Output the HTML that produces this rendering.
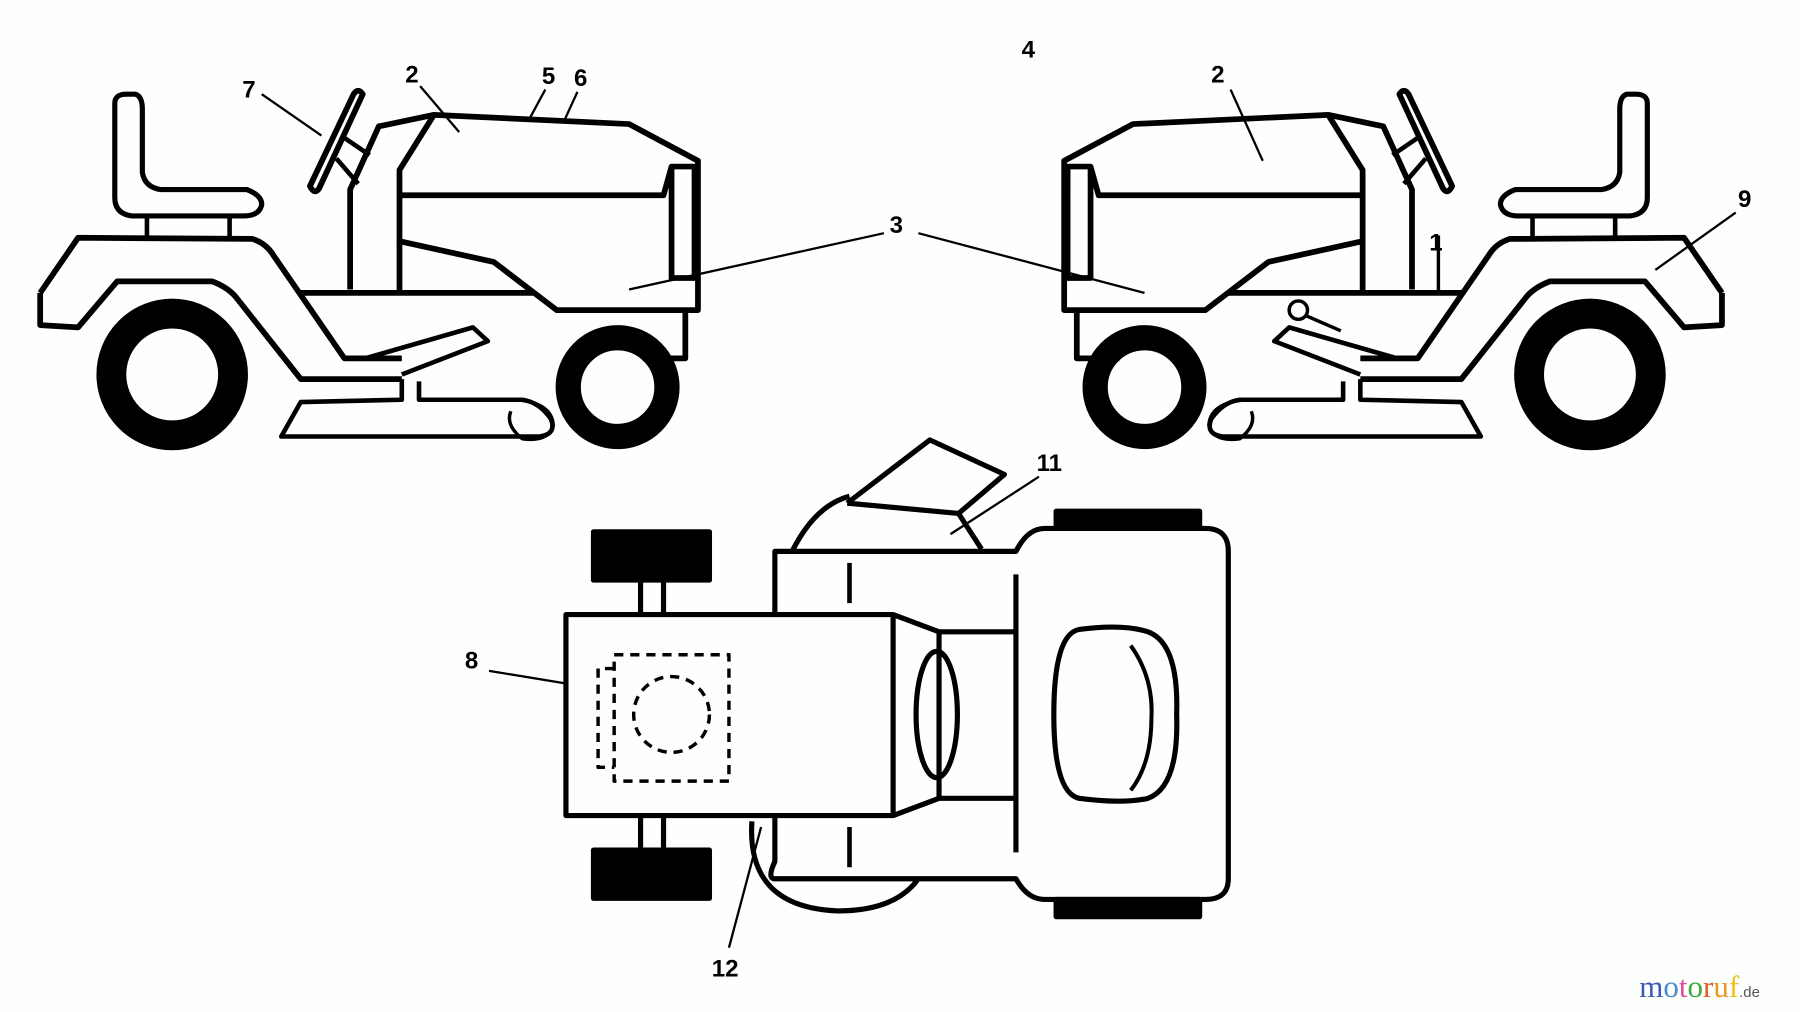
<!DOCTYPE html>
<html><head><meta charset="utf-8"><style>
html,body{margin:0;padding:0;background:#fdfffd;}
svg{display:block}
text{font-family:"Liberation Sans",sans-serif;font-weight:bold;}
</style></head><body>
<svg width="1800" height="1012" viewBox="0 0 1568 881" preserveAspectRatio="none" xmlns="http://www.w3.org/2000/svg">
<rect width="1568" height="881" fill="#fdfffd"/>
<defs>
<g id="tr" fill="none" stroke="#000" stroke-width="5" stroke-linejoin="round">
  <path d="M100,90 Q100,82 110,82 L118,82 Q124,84 124,95 L124,150 Q126,163 140,165 L215,165 Q228,170 228,178 Q226,188 212,188 L115,188 Q100,186 100,172 Z" stroke-width="4.5"/>
  <path d="M128,188 L128,207 M200,188 L200,207" stroke-width="4"/>
  <path d="M35,255 L68,207 L220,208 Q232,212 238,222 L300,312 L350,312 M35,255 L35,283 L68,285 L102,245 L185,245 Q198,250 205,258 L262,330 L350,330"/>
  <path d="M262,255 L465,255 M597,270 L597,312 L560,312"/>
  <path d="M305,252 L305,165 L330,110 L378,100 L548,108 L608,140 L608,270 L485,270 L430,228 L348,210 L348,148 L378,100"/>
  <path d="M348,170 L578,170 L585,145 M585,145 L605,145 L605,242 L585,242 Z"/>
  <path d="M348,210 L348,255"/>
  <path d="M300,120 L322,135 M293,138 L312,160" stroke-width="4"/>
  <path d="M270,162 L308,82 Q312,76 316,82 L278,164 Q274,170 270,162 Z" stroke-width="5"/>
  <path d="M318,312 L412,285 L425,297 L350,326" stroke-width="4"/>
  <path d="M350,330 L350,348 L262,350 L245,380 L470,380 Q485,378 480,365 Q470,350 455,348 L365,348 L365,332" stroke-width="4"/>
  <path d="M430,348 Q480,345 482,370 Q478,385 455,382 Q440,370 445,358" stroke-width="3"/>
  <circle cx="150" cy="326" r="53" stroke-width="26"/>
  <circle cx="538" cy="337" r="43" stroke-width="22"/>
</g>
</defs>
<use href="#tr"/>
<use href="#tr" transform="matrix(-1,0,0,1,1535,0)"/>
<g fill="none" stroke="#000" stroke-width="3">
  <circle cx="1131" cy="270" r="8"/><path d="M1138,275 L1168,288"/>
  <path d="M1253,205 L1253,255"/>
</g>
<g stroke="#000" stroke-width="2" fill="none">
  <path d="M228,82 L280,118"/><path d="M366,75 L400,115"/><path d="M475,78 L462,102"/><path d="M503,80 L492,104"/>
  <path d="M770,203 L548,252"/><path d="M800,203 L997,255"/>
  <path d="M1072,78 L1100,140"/><path d="M1512,185 L1442,235"/>
  <path d="M905,415 L828,465"/><path d="M426,584 L505,597"/><path d="M635,825 L663,720"/>
</g>
<g fill="none" stroke="#000" stroke-width="4.5" stroke-linejoin="round">
  <rect x="517" y="463" width="101" height="42" fill="#000"/>
  <rect x="517" y="740" width="101" height="42" fill="#000"/>
  <path d="M558,505 L558,535 M578,505 L578,535 M558,710 L558,740 M578,710 L578,740"/>
  <path d="M655,715 Q650,790 730,793 Q780,793 800,765"/>
  <path d="M690,480 Q710,440 740,432"/>
  <path d="M738,438 L810,383 L875,413 L835,447 L855,478 M738,438 L835,447"/>
  <path d="M675,480 L885,480 Q895,460 910,460 L1050,460 Q1070,460 1070,480 L1070,765 Q1070,783 1050,783 L910,783 Q895,783 885,765 L675,765 Q668,765 675,750 Z" fill="#fdfffd"/>
  <path d="M675,535 L675,710 M885,500 L885,742"/>
  <rect x="920" y="445" width="125" height="15" fill="#000"/>
  <rect x="920" y="783" width="125" height="15" fill="#000"/>
  <path d="M740,490 L740,525 M740,720 L740,755" stroke-width="4"/>
  <rect x="493" y="535" width="285" height="175" fill="#fdfffd"/>
  <path d="M778,535 L818,550 L818,695 L778,710 M818,550 L885,550 M818,695 L885,695"/>
  <ellipse cx="816" cy="622" rx="18" ry="55"/>
  <path d="M940,548 Q978,543 1000,550 Q1027,560 1025,622 Q1027,685 1000,695 Q978,700 940,695 Q918,690 918,622 Q918,552 940,548 Z"/>
  <path d="M985,562 Q1005,590 1003,625 Q1003,665 985,688" stroke-width="3.5"/>
  <g stroke-dasharray="8,6" stroke-width="3">
    <rect x="535" y="570" width="100" height="110"/>
    <path d="M535,582 L521,582 L521,668 L535,668"/>
    <circle cx="585" cy="622" r="33"/>
  </g>
</g>
<g font-size="21" fill="#000">
  <text x="211" y="85">7</text><text x="353" y="72">2</text><text x="472" y="73">5</text><text x="500" y="75">6</text>
  <text x="890" y="50">4</text><text x="1055" y="72">2</text><text x="775" y="203">3</text>
  <text x="1245" y="218">1</text><text x="1514" y="180">9</text><text x="903" y="410">11</text>
  <text x="405" y="582">8</text><text x="620" y="850">12</text>
</g>
<text x="1428" y="868" font-size="27" style="font-family:'Liberation Serif',serif;font-weight:normal"><tspan fill="#3c5ab4">m</tspan><tspan fill="#4a8ad0">o</tspan><tspan fill="#e04a9a">t</tspan><tspan fill="#3fa83f">o</tspan><tspan fill="#e05a2a">r</tspan><tspan fill="#e89a20">u</tspan><tspan fill="#f0c020">f</tspan><tspan fill="#555" font-size="13" style="font-family:'Liberation Sans',sans-serif">.de</tspan></text>
</svg>
</body></html>
